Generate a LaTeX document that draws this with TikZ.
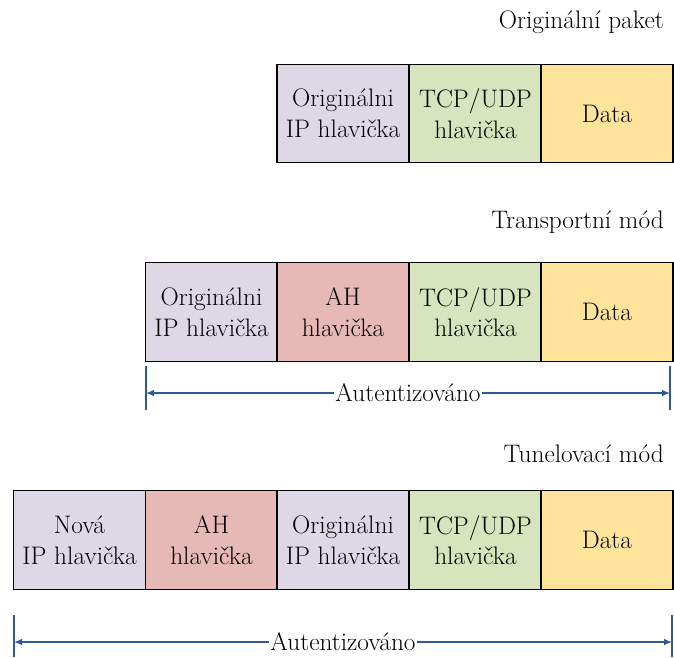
\documentclass[tikz,border=0pt]{standalone}
\usepackage{fontspec}
\usetikzlibrary{arrows.meta}
\definecolor{ipc}{HTML}{DED7E6}
\definecolor{ahc}{HTML}{E6B9B7}
\definecolor{tcpc}{HTML}{D8E4BE}
\definecolor{datac}{HTML}{FEE49B}
\definecolor{arrc}{HTML}{2F5B94}
\tikzset{
  pkt/.style={draw=black, line width=0.9pt, minimum width=99pt, minimum height=74pt, inner sep=0pt, align=center, font=\fontsize{19}{23}\selectfont},
  ttl/.style={anchor=east, inner sep=0pt, font=\fontsize{19}{23}\selectfont},
  authlbl/.style={fill=white, inner sep=1pt, font=\fontsize{19}{23}\selectfont},
  arr/.style={draw=arrc, line width=1pt, -{Latex[length=6pt,width=5pt]}},
  tick/.style={draw=arrc, line width=1pt},
}
\begin{document}
\begin{tikzpicture}[x=0.75pt,y=-0.75pt]
\useasboundingbox[fill=white] (0,0) rectangle (674,657);
% Row 1
\node[ttl] (t1) at (664,22) {Originální paket};
\node[pkt, fill=ipc] (a1) at (343,113.5) {Originálni\\IP hlavička};
\node[pkt, fill=tcpc] (a2) at (475.5,113.5) {TCP/UDP\\hlavička};
\node[pkt, fill=datac] (a3) at (607,113.5) {Data};
% Row 2
\node[ttl] (t2) at (664,222) {Transportní mód};
\node[pkt, fill=ipc] (b1) at (211.5,312) {Originálni\\IP hlavička};
\node[pkt, fill=ahc] (b2) at (343,312) {AH\\hlavička};
\node[pkt, fill=tcpc] (b3) at (475.5,312) {TCP/UDP\\hlavička};
\node[pkt, fill=datac] (b4) at (607,312) {Data};
\coordinate (bl1) at (146,366); \coordinate (bl2) at (146,410);
\coordinate (br1) at (670,366); \coordinate (br2) at (670,410);
\draw[tick] (bl1) -- (bl2);
\draw[tick] (br1) -- (br2);
\coordinate (bla) at (146,393); \coordinate (bra) at (670,393);
\node[authlbl] (auth1) at (408,393) {Autentizováno};
\draw[arr] (auth1.west) -- (bla);
\draw[arr] (auth1.east) -- (bra);
% Row 3
\node[ttl] (t3) at (664,454) {Tunelovací mód};
\node[pkt, fill=ipc] (c1) at (79.5,540) {Nová\\IP hlavička};
\node[pkt, fill=ahc] (c2) at (211.5,540) {AH\\hlavička};
\node[pkt, fill=ipc] (c3) at (343,540) {Originálni\\IP hlavička};
\node[pkt, fill=tcpc] (c4) at (475.5,540) {TCP/UDP\\hlavička};
\node[pkt, fill=datac] (c5) at (607,540) {Data};
\coordinate (cl1) at (14,615); \coordinate (cl2) at (14,657);
\coordinate (cr1) at (672,615); \coordinate (cr2) at (672,657);
\draw[tick] (cl1) -- (cl2);
\draw[tick] (cr1) -- (cr2);
\coordinate (cla) at (14,642); \coordinate (cra) at (672,642);
\node[authlbl] (auth2) at (343,642) {Autentizováno};
\draw[arr] (auth2.west) -- (cla);
\draw[arr] (auth2.east) -- (cra);
\end{tikzpicture}
\end{document}
